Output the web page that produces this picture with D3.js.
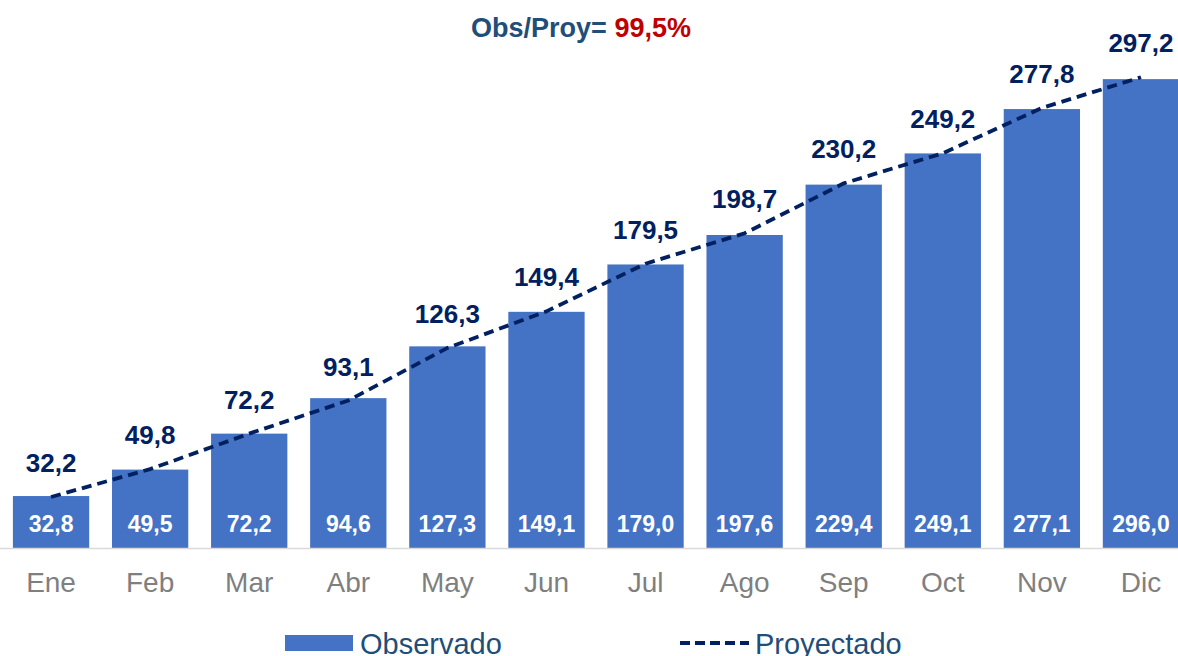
<!DOCTYPE html>
<html>
<head>
<meta charset="utf-8">
<script src="https://cdn.jsdelivr.net/npm/d3@7"></script>
<style>
  body { margin: 0; background: #fff; }
  svg { font-family: Arial, "Liberation Sans", sans-serif; display: block; }
</style>
</head>
<body>
<svg id="chart" width="1178" height="656"></svg>
<script>
// datos
const months = ['Ene', 'Feb', 'Mar', 'Abr', 'May', 'Jun', 'Jul', 'Ago', 'Sep', 'Oct', 'Nov', 'Dic'];
const observado = [32.8, 49.5, 72.2, 94.6, 127.3, 149.1, 179.0, 197.6, 229.4, 249.1, 277.1, 296.0];
const proyectado = [32.2, 49.8, 72.2, 93.1, 126.3, 149.4, 179.5, 198.7, 230.2, 249.2, 277.8, 297.2];
const ratioLabel = '99,5%';

const svg = d3.select('#chart');
const fmt = v => v.toFixed(1).replace('.', ',');

const x = d3.scaleBand()
    .domain(months)
    .range([1.5, 1190.5])
    .paddingInner(0.23)
    .paddingOuter(0.115);

const y = d3.scaleLinear()
    .domain([0, 300])
    .range([548, 72.8]);

// barras
svg.append('g').selectAll('rect')
    .data(observado)
    .join('rect')
    .attr('x', (d, i) => x(months[i]))
    .attr('y', d => y(d))
    .attr('width', x.bandwidth())
    .attr('height', d => y(0) - y(d))
    .attr('fill', '#4472C4');

// eje x
svg.append('line')
    .attr('x1', 0).attr('x2', 1178)
    .attr('y1', y(0) + 0.5).attr('y2', y(0) + 0.5)
    .style('stroke', '#d9d9d9')
    .style('stroke-width', 1.5);

svg.append('g').selectAll('text')
    .data(months)
    .join('text')
    .attr('x', d => x(d) + x.bandwidth() / 2)
    .attr('y', 592)
    .attr('text-anchor', 'middle')
    .style('font-size', '28px')
    .style('fill', '#7f7f7f')
    .text(d => d);

// etiquetas de barras
svg.append('g').selectAll('text')
    .data(observado)
    .join('text')
    .attr('x', (d, i) => x(months[i]) + x.bandwidth() / 2)
    .attr('y', 532)
    .attr('text-anchor', 'middle')
    .style('font-size', '23px')
    .style('font-weight', 'bold')
    .style('fill', '#fff')
    .text(d => fmt(d));

// linea proyectada
const line = d3.line()
    .x((d, i) => x(months[i]) + x.bandwidth() / 2)
    .y(d => y(d));

svg.append('path')
    .datum(proyectado)
    .attr('d', line)
    .attr('fill', 'none')
    .style('stroke', '#002060')
    .style('stroke-width', 3.8)
    .style('stroke-dasharray', '10,6');

svg.append('g').selectAll('text')
    .data(proyectado)
    .join('text')
    .attr('x', (d, i) => x(months[i]) + x.bandwidth() / 2)
    .attr('y', d => y(d) - 25)
    .attr('text-anchor', 'middle')
    .style('font-size', '26px')
    .style('font-weight', 'bold')
    .style('fill', '#002060')
    .text(d => fmt(d));

// titulo
const title = svg.append('text')
    .attr('x', 581)
    .attr('y', 37)
    .attr('text-anchor', 'middle')
    .style('font-size', '27px')
    .style('font-weight', 'bold');
title.append('tspan').style('fill', '#1F4E79').text('Obs/Proy= ');
title.append('tspan').style('fill', '#C00000').text(ratioLabel);

// leyenda
const legend = svg.append('g');
legend.append('rect')
    .attr('x', 285).attr('y', 635)
    .attr('width', 68).attr('height', 16)
    .attr('fill', '#4472C4');
legend.append('text')
    .attr('x', 360).attr('y', 654)
    .style('font-size', '29px')
    .style('fill', '#1F4E79')
    .text('Observado');
legend.append('line')
    .attr('x1', 680).attr('x2', 749)
    .attr('y1', 643).attr('y2', 643)
    .style('stroke', '#002060')
    .style('stroke-width', 3.8)
    .style('stroke-dasharray', '10,5');
legend.append('text')
    .attr('x', 755).attr('y', 654)
    .style('font-size', '29px')
    .style('fill', '#1F4E79')
    .text('Proyectado');
</script>
</body>
</html>
